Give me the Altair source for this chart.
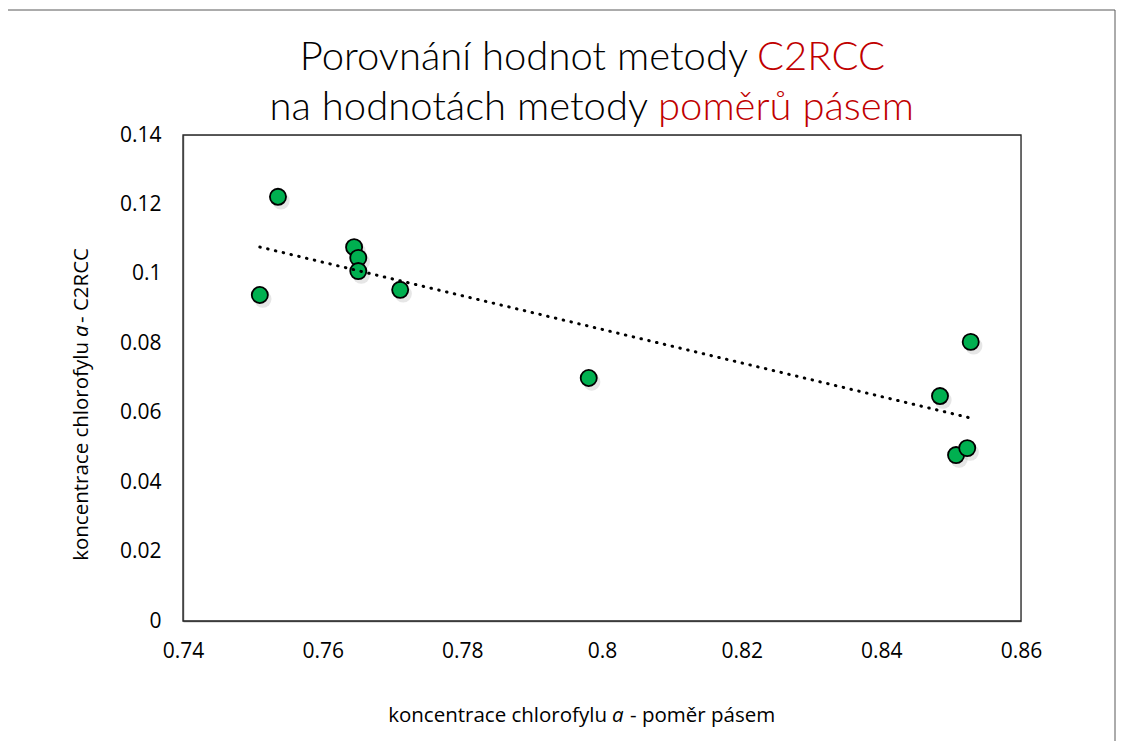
import altair as alt
import pandas as pd

# data
x_vals = [0.7536, 0.7510, 0.7645, 0.7651, 0.7651, 0.7711, 0.7981, 0.8484, 0.8528, 0.8507, 0.8523]
y_vals = [0.1222, 0.0939, 0.1077, 0.1046, 0.1008, 0.0954, 0.0700, 0.0648, 0.0804, 0.0478, 0.0498]
x_ticks = [0.74, 0.76, 0.78, 0.80, 0.82, 0.84, 0.86]
y_ticks = [0, 0.02, 0.04, 0.06, 0.08, 0.10, 0.12, 0.14]

title1 = ["Porovnání hodnot metody", "C2RCC"]
title2 = ["na hodnotách metody", "poměrů pásem"]
xtitle = ["koncentrace chlorofylu", "a", "- poměr pásem"]
ytitle = ["koncentrace chlorofylu", "a", "- C2RCC"]

df = pd.DataFrame({"x": x_vals, "y": y_vals})

W, H = 838, 486
FONT = "Open Sans"
TFONT = "Lato"
RED = "#C00000"

xs = alt.Scale(domain=[0.74, 0.86], nice=False, zero=False)
ys = alt.Scale(domain=[0, 0.14], nice=False)

xax = alt.Axis(values=x_ticks, format=".2~f", title="", grid=False, ticks=False,
               labelFont=FONT, labelFontSize=21, labelColor="black", labelPadding=19,
               domainColor="#7f7f7f", domainWidth=1.5, labelFlush=False)
yax = alt.Axis(values=y_ticks, format=".2~f", title="", grid=False, ticks=False,
               labelFont=FONT, labelFontSize=21, labelColor="black", labelPadding=22,
               domainColor="#7f7f7f", domainWidth=1.5)

base = alt.Chart(df)

frame = alt.Chart(pd.DataFrame({"a": [0]})).mark_rect(fill="transparent", stroke="#262626",
                                                     strokeWidth=1.3).encode(
    x=alt.value(0), x2=alt.value(W), y=alt.value(0), y2=alt.value(H))

shadow = base.mark_circle(color="#9a9a9a", opacity=0.25, size=300, xOffset=3, yOffset=4).encode(
    x=alt.X("x:Q", scale=xs, axis=xax),
    y=alt.Y("y:Q", scale=ys, axis=yax),
)
points = base.mark_point(filled=True, fill="#00B050", stroke="black", strokeWidth=1.8,
                         size=260, shape="circle", opacity=1).encode(
    x=alt.X("x:Q", scale=xs),
    y=alt.Y("y:Q", scale=ys),
)
trend = base.transform_regression("x", "y").mark_line(
    color="black", strokeWidth=3, strokeDash=[0.5, 7.5], strokeCap="round"
).encode(x=alt.X("x:Q", scale=xs), y=alt.Y("y:Q", scale=ys))


def txt(s, x, y, color="black", size=20.5, font=FONT, align="left", angle=0, style="normal", weight="normal"):
    kw = dict(align=align, baseline="alphabetic", font=font, fontSize=size, color=color,
              fontStyle=style, fontWeight=weight)
    if angle:
        kw["angle"] = angle
    return alt.Chart(pd.DataFrame({"t": [s]})).mark_text(**kw).encode(
        x=alt.value(x), y=alt.value(y), text="t:N")


border = alt.Chart(pd.DataFrame({"a": [0]})).mark_rect(fill="transparent", stroke="#595959",
                                                      strokeWidth=1).encode(
    x=alt.value(-177), x2=alt.value(932), y=alt.value(-125), y2=alt.value(640))

texts = [
    txt(title1[0], 565, -65, size=40, font=TFONT, align="right", weight=300),
    txt(title1[1], 574, -65, color=RED, size=40, font=TFONT, weight=300),
    txt(title2[0], 465, -15, size=40, font=TFONT, align="right", weight=300),
    txt(title2[1], 475, -15, color=RED, size=40, font=TFONT, weight=300),
    txt(xtitle[0], 424, 587, align="right"),
    txt(xtitle[1], 429, 587, style="italic"),
    txt(xtitle[2], 447, 587),
    txt(ytitle[0], -95, 207, align="right", angle=270),
    txt(ytitle[1], -95, 202, style="italic", angle=270),
    txt(ytitle[2], -95, 188, angle=270),
]

chart = alt.layer(border, frame, shadow, points, trend, *texts).properties(
    width=W, height=H,
    autosize=alt.AutoSizeParams(type="none"),
    padding={"left": 175, "top": 127, "right": 96, "bottom": 120},
).configure_view(stroke="#333333", strokeWidth=1.5).configure(background="white")

chart.save("out.html", embed_options={"renderer": "svg", "actions": False})
